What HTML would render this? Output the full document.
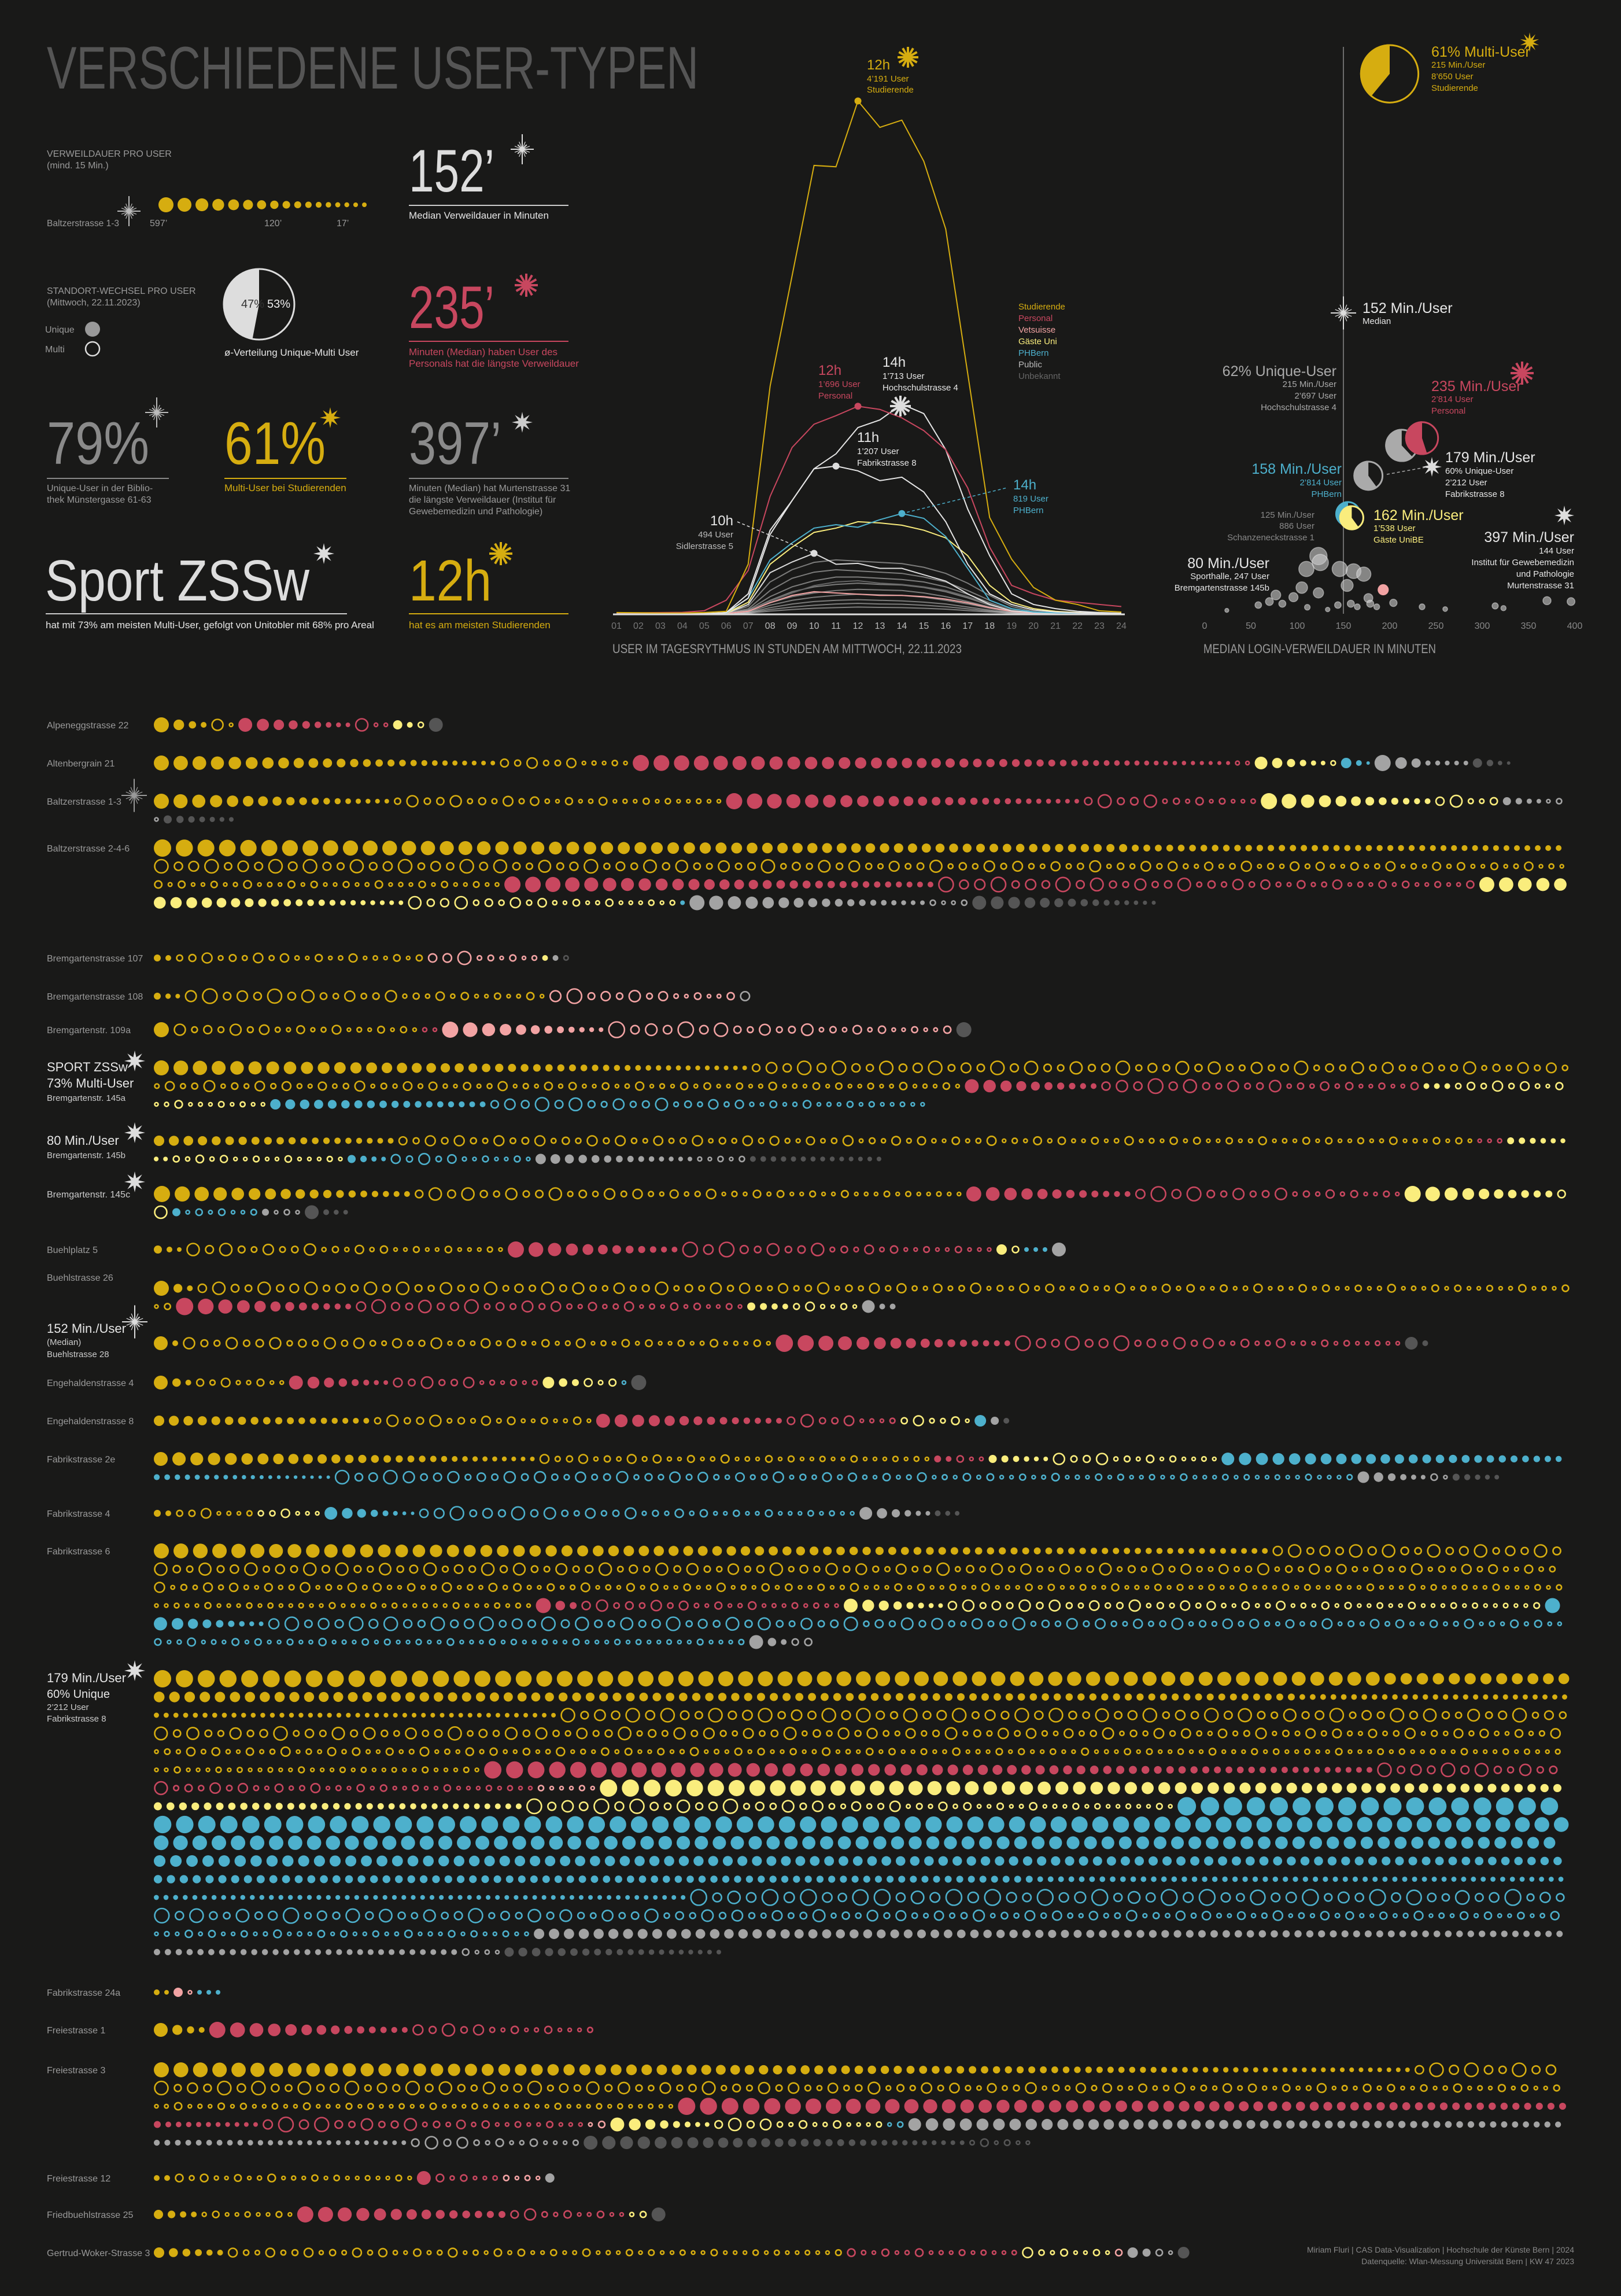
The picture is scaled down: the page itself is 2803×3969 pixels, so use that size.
<!DOCTYPE html>
<html><head><meta charset="utf-8">
<style>
html,body{margin:0;padding:0;background:#191918;}
svg{display:block;font-family:"Liberation Sans Narrow","Liberation Sans",sans-serif;}
.sm{font-size:16px;fill:#9a9a9a;}
.wt{fill:#e6e6e6;}
</style></head>
<body>
<svg id="c" width="2803" height="3969" viewBox="0 0 2803 3969" xmlns="http://www.w3.org/2000/svg">
<rect width="2803" height="3969" fill="#191918"/>
<text x="81" y="153" font-size="104" fill="#555" textLength="1127" lengthAdjust="spacingAndGlyphs">VERSCHIEDENE USER-TYPEN</text>

<g>
<text x="81" y="271" class="sm">VERWEILDAUER PRO USER</text>
<text x="81" y="291" class="sm">(mind. 15 Min.)</text>
<text x="81" y="391" class="sm" textLength="125" lengthAdjust="spacingAndGlyphs">Baltzerstrasse 1-3</text>
<g id="keydots"></g>
<text x="259" y="391" class="sm">597’</text>
<text x="457" y="391" class="sm">120’</text>
<text x="582" y="391" class="sm">17’</text>
</g>
<g>
<text x="81" y="508" class="sm">STANDORT-WECHSEL PRO USER</text>
<text x="81" y="528" class="sm">(Mittwoch, 22.11.2023)</text>
<text x="78" y="575" class="sm">Unique</text>
<circle cx="160" cy="569" r="13" fill="#999"/>
<text x="78" y="609" class="sm">Multi</text>
<circle cx="160" cy="603" r="12" fill="none" stroke="#ddd" stroke-width="2.5"/>
<g id="keypie"></g>
<text x="417" y="532" font-size="20" fill="#333">47%</text>
<text x="462" y="532" font-size="20" fill="#eee">53%</text>
<text x="388" y="615" font-size="17" class="wt">ø-Verteilung Unique-Multi User</text>
</g>

<g>
<text x="707" y="331" font-size="104" fill="#ddd" textLength="148" lengthAdjust="spacingAndGlyphs">152’</text>
<line x1="707" y1="355" x2="983" y2="355" stroke="#ccc" stroke-width="2"/>
<text x="707" y="378" font-size="17" class="wt">Median Verweildauer in Minuten</text>
</g>
<g>
<text x="707" y="567" font-size="104" fill="#c8475f" textLength="148" lengthAdjust="spacingAndGlyphs">235’</text>
<line x1="707" y1="590" x2="983" y2="590" stroke="#c8475f" stroke-width="2"/>
<text x="707" y="614" font-size="17" fill="#c8475f">Minuten (Median) haben User des</text>
<text x="707" y="634" font-size="17" fill="#c8475f">Personals hat die längste Verweildauer</text>
</g>
<g>
<text x="81" y="802" font-size="104" fill="#8a8a8a" textLength="177" lengthAdjust="spacingAndGlyphs">79%</text>
<line x1="81" y1="827" x2="292" y2="827" stroke="#888" stroke-width="2"/>
<text x="81" y="849" class="sm">Unique-User in der Biblio-</text>
<text x="81" y="869" class="sm">thek Münstergasse 61-63</text>
</g>
<g>
<text x="388" y="802" font-size="104" fill="#d6ad10" textLength="175" lengthAdjust="spacingAndGlyphs">61%</text>
<line x1="388" y1="827" x2="599" y2="827" stroke="#d6ad10" stroke-width="2"/>
<text x="388" y="849" font-size="17" fill="#d6ad10">Multi-User bei Studierenden</text>
</g>
<g>
<text x="707" y="802" font-size="104" fill="#8a8a8a" textLength="160" lengthAdjust="spacingAndGlyphs">397’</text>
<line x1="707" y1="827" x2="983" y2="827" stroke="#888" stroke-width="2"/>
<text x="707" y="849" class="sm">Minuten (Median) hat Murtenstrasse 31</text>
<text x="707" y="869" class="sm">die längste Verweildauer (Institut für</text>
<text x="707" y="889" class="sm">Gewebemedizin und Pathologie)</text>
</g>
<g>
<text x="78" y="1038" font-size="100" fill="#ddd" textLength="457" lengthAdjust="spacingAndGlyphs">Sport ZSSw</text>
<line x1="79" y1="1061" x2="600" y2="1061" stroke="#ccc" stroke-width="2"/>
<text x="79" y="1086" font-size="17" class="wt">hat mit 73% am meisten Multi-User, gefolgt von Unitobler mit 68% pro Areal</text>
</g>
<g>
<text x="707" y="1038" font-size="100" fill="#d6ad10" textLength="143" lengthAdjust="spacingAndGlyphs">12h</text>
<line x1="707" y1="1061" x2="983" y2="1061" stroke="#d6ad10" stroke-width="2"/>
<text x="707" y="1086" font-size="17" fill="#d6ad10">hat es am meisten Studierenden</text>
</g>

<g id="linechart">
<text x="1059" y="1129" font-size="22" fill="#9a9a9a" textLength="604" lengthAdjust="spacingAndGlyphs">USER IM TAGESRYTHMUS IN STUNDEN AM MITTWOCH, 22.11.2023</text>
<g id="lcLines"></g><g id="lcTicks"></g>
<text x="1499" y="120" font-size="24" fill="#d6ad10">12h</text>
<text x="1499" y="141" font-size="15" fill="#d6ad10">4’191 User</text>
<text x="1499" y="160" font-size="15" fill="#d6ad10">Studierende</text>
<text x="1415" y="648" font-size="24" fill="#c8475f">12h</text>
<text x="1415" y="669" font-size="15" fill="#c8475f">1’696 User</text>
<text x="1415" y="689" font-size="15" fill="#c8475f">Personal</text>
<text x="1526" y="634" font-size="24" class="wt">14h</text>
<text x="1526" y="655" font-size="15" class="wt">1’713 User</text>
<text x="1526" y="675" font-size="15" class="wt">Hochschulstrasse 4</text>
<text x="1482" y="764" font-size="24" class="wt">11h</text>
<text x="1482" y="785" font-size="15" class="wt">1’207 User</text>
<text x="1482" y="805" font-size="15" class="wt">Fabrikstrasse 8</text>
<text x="1752" y="846" font-size="24" fill="#4db0cc">14h</text>
<text x="1752" y="867" font-size="15" fill="#4db0cc">819 User</text>
<text x="1752" y="887" font-size="15" fill="#4db0cc">PHBern</text>
<text x="1268" y="908" font-size="24" class="wt" text-anchor="end">10h</text>
<text x="1268" y="929" font-size="15" fill="#bbb" text-anchor="end">494 User</text>
<text x="1268" y="949" font-size="15" fill="#bbb" text-anchor="end">Sidlerstrasse 5</text>
<g>
<text x="1761" y="535" font-size="15" fill="#d6ad10">Studierende</text>
<text x="1761" y="555" font-size="15" fill="#c8475f">Personal</text>
<text x="1761" y="575" font-size="15" fill="#f2a3a3">Vetsuisse</text>
<text x="1761" y="595" font-size="15" fill="#faed7d">Gäste Uni</text>
<text x="1761" y="615" font-size="15" fill="#4db0cc">PHBern</text>
<text x="1761" y="635" font-size="15" fill="#bbb">Public</text>
<text x="1761" y="655" font-size="15" fill="#666">Unbekannt</text>
</g>
</g>

<g id="scatter">
<text x="2081" y="1129" font-size="22" fill="#9a9a9a" textLength="402" lengthAdjust="spacingAndGlyphs">MEDIAN LOGIN-VERWEILDAUER IN MINUTEN</text>
<g id="scTicks"></g><g id="scMarks"></g>
<text x="2475" y="98" font-size="25" fill="#d6ad10">61% Multi-User</text>
<text x="2475" y="117" font-size="15" fill="#d6ad10">215 Min./User</text>
<text x="2475" y="137" font-size="15" fill="#d6ad10">8’650 User</text>
<text x="2475" y="157" font-size="15" fill="#d6ad10">Studierende</text>
<text x="2356" y="541" font-size="25" class="wt">152 Min./User</text>
<text x="2356" y="560" font-size="15" class="wt">Median</text>
<text x="2311" y="650" font-size="25" fill="#aaa" text-anchor="end">62% Unique-User</text>
<text x="2311" y="669" font-size="15" fill="#aaa" text-anchor="end">215 Min./User</text>
<text x="2311" y="689" font-size="15" fill="#aaa" text-anchor="end">2’697 User</text>
<text x="2311" y="709" font-size="15" fill="#aaa" text-anchor="end">Hochschulstrasse 4</text>
<text x="2475" y="676" font-size="25" fill="#c8475f">235 Min./User</text>
<text x="2475" y="695" font-size="15" fill="#c8475f">2’814 User</text>
<text x="2475" y="715" font-size="15" fill="#c8475f">Personal</text>
<text x="2499" y="799" font-size="25" class="wt">179 Min./User</text>
<text x="2499" y="819" font-size="15" class="wt">60% Unique-User</text>
<text x="2499" y="839" font-size="15" class="wt">2’212 User</text>
<text x="2499" y="859" font-size="15" class="wt">Fabrikstrasse 8</text>
<text x="2320" y="819" font-size="25" fill="#4db0cc" text-anchor="end">158 Min./User</text>
<text x="2320" y="839" font-size="15" fill="#4db0cc" text-anchor="end">2’814 User</text>
<text x="2320" y="859" font-size="15" fill="#4db0cc" text-anchor="end">PHBern</text>
<text x="2375" y="899" font-size="25" fill="#faed7d">162 Min./User</text>
<text x="2375" y="918" font-size="15" fill="#faed7d">1’538 User</text>
<text x="2375" y="938" font-size="15" fill="#faed7d">Gäste UniBE</text>
<text x="2273" y="895" font-size="15" fill="#888" text-anchor="end">125 Min./User</text>
<text x="2273" y="914" font-size="15" fill="#888" text-anchor="end">886 User</text>
<text x="2273" y="934" font-size="15" fill="#888" text-anchor="end">Schanzeneckstrasse 1</text>
<text x="2195" y="982" font-size="25" class="wt" text-anchor="end">80 Min./User</text>
<text x="2195" y="1001" font-size="15" class="wt" text-anchor="end">Sporthalle, 247 User</text>
<text x="2195" y="1021" font-size="15" class="wt" text-anchor="end">Bremgartenstrasse 145b</text>
<text x="2722" y="937" font-size="25" class="wt" text-anchor="end">397 Min./User</text>
<text x="2722" y="957" font-size="15" class="wt" text-anchor="end">144 User</text>
<text x="2722" y="977" font-size="15" class="wt" text-anchor="end">Institut für Gewebemedizin</text>
<text x="2722" y="997" font-size="15" class="wt" text-anchor="end">und Pathologie</text>
<text x="2722" y="1017" font-size="15" class="wt" text-anchor="end">Murtenstrasse 31</text>
</g>

<g>
<text x="81" y="1259" class="sm">Alpeneggstrasse 22</text>
<text x="81" y="1325" class="sm">Altenbergrain 21</text>
<text x="81" y="1391" class="sm">Baltzerstrasse 1-3</text>
<text x="81" y="1472" class="sm">Baltzerstrasse 2-4-6</text>
<text x="81" y="1662" class="sm">Bremgartenstrasse 107</text>
<text x="81" y="1728" class="sm">Bremgartenstrasse 108</text>
<text x="81" y="1786" class="sm">Bremgartenstr. 109a</text>
<text x="81" y="1852" font-size="22" class="wt">SPORT ZSSw</text>
<text x="81" y="1880" font-size="22" class="wt">73% Multi-User</text>
<text x="81" y="1903" font-size="15" fill="#ccc">Bremgartenstr. 145a</text>
<text x="81" y="1979" font-size="22" class="wt">80 Min./User</text>
<text x="81" y="2002" font-size="15" fill="#ccc">Bremgartenstr. 145b</text>
<text x="81" y="2070" font-size="16" fill="#ccc">Bremgartenstr. 145c</text>
<text x="81" y="2166" class="sm">Buehlplatz 5</text>
<text x="81" y="2214" class="sm">Buehlstrasse 26</text>
<text x="81" y="2304" font-size="22" class="wt">152 Min./User</text>
<text x="81" y="2325" font-size="15" fill="#ccc">(Median)</text>
<text x="81" y="2346" font-size="15" fill="#ccc">Buehlstrasse 28</text>
<text x="81" y="2396" class="sm">Engehaldenstrasse 4</text>
<text x="81" y="2462" class="sm">Engehaldenstrasse 8</text>
<text x="81" y="2528" class="sm">Fabrikstrasse 2e</text>
<text x="81" y="2622" class="sm">Fabrikstrasse 4</text>
<text x="81" y="2687" class="sm">Fabrikstrasse 6</text>
<text x="81" y="2908" font-size="22" class="wt">179 Min./User</text>
<text x="81" y="2935" font-size="20" class="wt">60% Unique</text>
<text x="81" y="2956" font-size="15" fill="#ccc">2’212 User</text>
<text x="81" y="2976" font-size="15" fill="#ccc">Fabrikstrasse 8</text>
<text x="81" y="3450" class="sm">Fabrikstrasse 24a</text>
<text x="81" y="3515" class="sm">Freiestrasse 1</text>
<text x="81" y="3584" class="sm">Freiestrasse 3</text>
<text x="81" y="3771" class="sm">Freiestrasse 12</text>
<text x="81" y="3834" class="sm">Friedbuehlstrasse 25</text>
<text x="81" y="3900" class="sm">Gertrud-Woker-Strasse 3</text>
</g>
<g id="rows"></g>
<g id="stars"></g>

<text x="2722" y="3894" font-size="14" fill="#888" text-anchor="end">Miriam Fluri | CAS Data-Visualization | Hochschule der Künste Bern | 2024</text>
<text x="2722" y="3914" font-size="14" fill="#888" text-anchor="end">Datenquelle: Wlan-Messung Universität Bern | KW 47 2023</text>
</svg>

<script>
// ---------- data: hourly chart ----------
const hours = [1,2,3,4,5,6,7,8,9,10,11,12,13,14,15,16,17,18,19,20,21,22,23,24];
const studierende = [10,8,6,6,10,20,405,1861,2762,3664,3653,4191,3975,4034,3698,3144,1965,787,447,215,111,76,24,14];
const personal = [8,8,10,12,25,111,354,960,1359,1549,1619,1696,1670,1601,1497,1341,1029,544,232,163,111,94,76,59];
const hochschul4 = [0,0,0,0,2,10,163,683,925,1185,1307,1522,1584,1713,1636,1341,856,475,163,76,42,20,10,5];
const fabrik8 = [0,0,0,0,2,8,128,648,925,1185,1207,1168,1088,1116,995,752,405,163,76,31,15,8,4,2];
const phbern = [0,0,0,0,0,5,128,440,579,700,728,707,769,819,780,631,371,111,42,15,8,4,2,0];
const gaeste = [0,0,0,0,0,5,94,405,544,665,700,752,742,724,683,620,475,232,94,42,20,10,5,2];
const sidler = [0,0,0,0,0,3,76,336,423,494,405,412,371,371,319,267,163,76,24,10,5,2,0,0];
const bgA = [0,0,0,0,0,5,60,260,360,420,440,430,420,410,380,330,250,150,60,20,5,0,0,0];
const bgB = [0,0,0,0,0,4,40,190,290,340,360,350,340,330,300,260,190,110,40,10,0,0,0,0];
const bgC = [0,0,0,0,0,3,30,140,220,270,300,300,290,280,260,220,160,90,30,10,0,0,0,0];
const bgD = [0,0,0,0,0,2,25,110,180,220,240,250,240,235,215,180,130,70,25,8,0,0,0,0];
const bgE = [0,0,0,0,0,2,20,90,140,170,190,200,195,190,170,140,100,55,20,5,0,0,0,0];
const bgF = [0,0,0,0,0,1,15,70,110,135,150,160,155,150,135,110,80,45,15,4,0,0,0,0];
const bgG = [0,0,0,0,0,1,10,50,80,100,110,115,110,105,95,80,55,30,10,3,0,0,0,0];
const bgH = [0,0,0,0,0,0,8,35,55,70,80,85,80,78,70,58,40,22,8,2,0,0,0,0];
const bgI = [0,0,0,0,0,0,5,22,35,45,50,55,52,50,45,38,26,15,5,1,0,0,0,0];
const vetsuisse = [0,0,0,0,0,2,20,90,150,180,170,160,150,150,140,120,90,50,20,5,0,0,0,0];
const unbekannt = [0,0,0,0,0,2,20,100,170,230,260,270,250,240,220,190,140,80,30,10,0,0,0,0];

// ---------- data: scatter ----------
const bubMinutes = [123,125,110,146,161,172,154,105,123,77,96,177,193,204,70,84,58,111,144,165,186,235,260,314,323,370,396,24,133,158,179];
const bubUsers = [897,795,693,693,659,612,435,401,319,285,251,238,367,163,183,150,129,95,129,102,102,102,68,116,82,197,183,48,61,150,150];
const pieNames = ['studierende','hochschul4','personal','fabrik8','phbern','gaeste'];
const pieMinutes = [200,213,235,177,155,159];
const pieUsers = [8650,2697,2814,2212,1600,1538];
const pieUnique = [0.39,0.62,0.55,0.60,0.5,0.6];
const pieColors = ['#d6ad10','#aaa','#c8475f','#aaa','#4db0cc','#faed7d'];
const scTicks = [0,50,100,150,200,250,300,350,400];

// ---------- data: location dot rows (colour, F=unique/O=multi, count, start size, end size) ----------
const locNames = ['alpenegg','altenbergrain','baltzer-1-3','baltzer-2-4-6','bremgarten-107','bremgarten-108','bremgarten-109a','sport-zssw','bremgarten-145b','bremgarten-145c','buehlplatz-5','buehlstrasse-26','buehlstrasse-28','engehalden-4','engehalden-8','fabrik-2e','fabrik-4','fabrik-6','fabrik-8','fabrik-24a','freie-1','freie-3','freie-12','friedbuehl-25','gertrud-woker-3'];
const locY = [1253,1319,1385,1466,1656,1722,1780,1846,1972,2064,2160,2227,2322,2390,2456,2522,2616,2681,2902,3444,3509,3578,3765,3828,3894];
const locSegs = [
 "Y F 4 26 10;Y O 2 22 8;P F 9 24 8;P O 3 24 8;G F 2 16 10;G O 1 12 12;D F 1 24 24",
 "Y F 26 26 8;Y O 11 24 10;P F 45 28 7;P O 2 14 12;G F 6 22 8;G O 1 16 16;B F 3 18 6;W F 3 28 16;W F 5 9 8;D F 4 16 6",
 "Y F 18 26 8;Y O 28 22 10;P F 26 28 8;P O 14 26 10;G F 12 28 10;G O 5 28 12;W F 4 14 8;W O 3 12 12;D F 7 14 8",
 "Y F 60 30 14;Y F 40 12 10;Y O 135 26 12;P F 30 28 10;P O 40 28 12;G F 26 26 8;G O 22 24 10;B F 1 8 8;W F 18 26 8;W O 4 12 12;D F 15 24 7",
 "Y F 2 12 10;Y O 21 20 12;V O 9 26 10;G F 1 10 10;W F 1 10 10;D O 1 16 16",
 "Y F 3 12 8;Y O 27 28 12;V O 14 28 12;W O 1 24 24",
 "Y F 1 26 26;Y O 20 22 12;P O 2 10 10;V F 12 28 8;V O 25 30 12;D F 1 26 26",
 "Y F 45 26 8;Y O 125 26 12;P F 10 24 10;P O 24 28 12;G F 3 10 10;G O 20 20 10;B F 18 18 10;B O 35 26 10",
 "Y F 20 18 10;Y O 90 20 12;P O 3 10 10;G F 8 12 8;G O 16 16 10;B F 4 14 8;B O 12 22 10;W F 14 18 8;W O 5 12 12;D F 14 10 8",
 "Y F 18 28 10;Y O 45 24 10;P F 12 26 10;P O 20 28 12;G F 10 28 12;G O 2 24 24;B F 1 14 14;B O 7 14 12;W F 1 12 12;W O 3 12 12;D F 1 24 24;D F 3 10 8",
 "Y F 3 14 8;Y O 26 24 10;P F 12 28 10;P O 24 28 10;G F 1 18 18;G O 1 14 14;B F 3 8 8;W F 1 24 24",
 "Y F 3 26 10;Y O 110 24 12;P F 12 30 10;P O 30 26 12;G F 4 14 10;G O 6 18 12;W F 1 22 22;W F 2 10 10",
 "Y F 2 24 10;Y O 48 22 12;P F 16 30 10;P O 30 28 10;D F 2 22 10",
 "Y F 3 24 10;Y O 8 22 10;P F 8 24 8;P O 12 26 10;G F 3 20 12;G O 3 24 14;B O 1 12 12;D F 1 26 26",
 "Y F 18 18 10;Y O 18 22 12;P F 14 24 10;P O 9 26 10;G O 6 22 12;B F 1 20 20;W F 1 14 14;D F 1 10 10",
 "Y F 30 24 8;Y O 35 18 10;P F 2 12 10;P O 3 14 12;G F 6 14 8;G O 14 22 10;B F 45 22 6;B O 4 26 22;B O 80 22 10;W F 6 20 8;W O 2 14 12;D F 5 12 8",
 "Y F 2 12 10;Y O 7 20 10;G O 6 18 10;B F 8 22 6;B O 35 26 10;W F 6 22 8;D F 3 10 8",
 "Y F 80 26 10;Y O 285 24 10;P F 3 26 12;P O 22 22 10;G F 8 24 8;G O 50 22 10;B F 10 26 8;B O 150 26 10;W F 3 24 10;W O 2 18 12",
 "Y F 62 30 24;Y F 100 20 12;Y F 70 10 8;Y O 330 26 10;P F 60 30 10;P O 45 26 10;V O 6 12 10;G F 90 30 10;G O 50 28 10;B F 60 32 28;B F 85 28 22;B F 90 22 16;B F 100 16 12;B F 110 10 8;B O 10 30 28;B O 180 30 12;W F 110 18 10;W O 4 14 12;D F 20 16 8",
 "Y F 2 10 8;V F 1 16 16;V O 1 10 10;B F 3 8 8",
 "Y F 4 24 10;P F 14 28 10;P O 15 24 10",
 "Y F 95 26 8;Y O 165 26 10;P F 58 30 12;P F 10 10 8;P O 25 28 10;V O 2 14 12;G F 8 24 8;G O 14 24 10;B O 2 12 12;W F 55 22 10;W F 20 10 8;W O 14 24 10;D F 30 24 8;D O 6 16 10",
 "Y F 2 10 10;Y O 22 16 10;P F 1 24 24;P O 6 16 10;V O 4 12 10;W F 1 16 16",
 "Y F 4 16 10;Y O 9 14 10;P F 14 28 12;P O 10 22 10;G O 2 14 12;D F 1 24 24",
 "Y F 6 18 10;Y O 55 18 10;P O 16 16 10;G O 8 20 10;V O 1 14 14;W F 2 18 14;W O 2 14 12;D F 1 20 20"
];
const keyDotCount = 17;

// ---------- rendering ----------
const NS='http://www.w3.org/2000/svg';
const COL={Y:'#d6ad10',P:'#c8475f',V:'#f2a3a3',G:'#faed7d',B:'#4db0cc',W:'#a3a3a3',D:'#555'};
const OPAT=[1,0.62,0.55,0.95,0.6,0.7,1.15,0.55,0.75,0.6,1.05,0.65];
const GAP=8;
function mk(tag,parent){const e=document.createElementNS(NS,tag);parent.appendChild(e);return e;}

const kd=document.getElementById('keydots');
{let x=274;for(let i=0;i<keyDotCount;i++){const t=i/(keyDotCount-1);const d=8+18*Math.pow(1-t,1.8);const c=mk('circle',kd);


c.setAttribute('cx',x+d/2);c.setAttribute('cy',354);c.setAttribute('r',d/2);c.setAttribute('fill',COL.Y);x+=d+7;}}

function wedge(g,cx,cy,r,frac,fill){
  if(frac>=0.999){const c=mk('circle',g);c.setAttribute('cx',cx);c.setAttribute('cy',cy);c.setAttribute('r',r);c.setAttribute('fill',fill);return c;}
  const a=-Math.PI/2-frac*2*Math.PI;const x=cx+r*Math.cos(a),y=cy+r*Math.sin(a);
  const p=mk('path',g);p.setAttribute('d',`M${cx},${cy} L${cx},${cy-r} A${r},${r} 0 ${frac>0.5?1:0} 0 ${x},${y} Z`);p.setAttribute('fill',fill);return p;}
const kp=document.getElementById('keypie');
{const w=wedge(kp,448,526,61,0.47,'#ddd');


const o=mk('circle',kp);


o.setAttribute('cx',448);o.setAttribute('cy',526);o.setAttribute('r',61);o.setAttribute('fill','none');o.setAttribute('stroke','#ddd');o.setAttribute('stroke-width',3);}

const hx=h=>1066+(h-1)*(1939-1066)/23;
const vy=v=>1061-v*(1061-174.5)/4191;
const lcL=document.getElementById('lcLines'), lcT=document.getElementById('lcTicks');
function series(arr,color,w,name,op){const p=mk('polyline',lcL);


p.setAttribute('points',arr.map((v,i)=>hx(hours[i])+','+vy(v)).join(' '));p.setAttribute('fill','none');p.setAttribute('stroke',color);p.setAttribute('stroke-width',w);if(op)p.setAttribute('opacity',op);}
[bgA,bgB,bgC,bgD,bgE,bgF,bgG,bgH,bgI].forEach((a,i)=>series(a,'#cfcfcf',2,'background-line-'+i,0.55));
series(unbekannt,'#666',2,'line-unbekannt');
series(vetsuisse,'#f2a3a3',2,'line-vetsuisse');
series(sidler,'#ddd',2,'line-sidlerstrasse-5');
series(gaeste,'#faed7d',2,'line-gaeste-uni');
series(phbern,'#4db0cc',2,'line-phbern');
series(fabrik8,'#e6e6e6',2,'line-fabrikstrasse-8');
series(hochschul4,'#e6e6e6',2,'line-hochschulstrasse-4');
series(personal,'#c8475f',2,'line-personal');
series(studierende,'#d6ad10',2,'line-studierende');
{const b=mk('line',lcT);


b.setAttribute('x1',1060);b.setAttribute('x2',1945);b.setAttribute('y1',1062);b.setAttribute('y2',1062);b.setAttribute('stroke','#ddd');b.setAttribute('stroke-width',3);}
hours.forEach(h=>{const t=mk('text',lcT);


t.setAttribute('x',hx(h));t.setAttribute('y',1087);t.setAttribute('text-anchor','middle');t.setAttribute('font-size',16);t.setAttribute('fill',h>=8&&h<=18?'#bbb':'#777');t.textContent=String(h).padStart(2,'0');});
function pt(h,arr,color,name){const c=mk('circle',lcL);


c.setAttribute('cx',hx(h));c.setAttribute('cy',vy(arr[h-1]));c.setAttribute('r',6);c.setAttribute('fill',color);return [hx(h),vy(arr[h-1])];}
pt(12,studierende,'#d6ad10','peak-point-studierende');
pt(12,personal,'#c8475f','peak-point-personal');
pt(11,fabrik8,'#ddd','peak-point-fabrik8');
const pb=pt(14,phbern,'#4db0cc','peak-point-phbern');
const ps=pt(10,sidler,'#ddd','peak-point-sidler');
function dash(x1,y1,x2,y2,c,name,parent){const l=mk('line',parent);


l.setAttribute('x1',x1);l.setAttribute('y1',y1);l.setAttribute('x2',x2);l.setAttribute('y2',y2);l.setAttribute('stroke',c);l.setAttribute('stroke-width',1.5);l.setAttribute('stroke-dasharray','5,4');}
dash(pb[0],pb[1],1742,843,'#4db0cc','phbern-leader',lcL);
dash(1275,902,ps[0],ps[1],'#ddd','sidler-leader',lcL);

const sx=m=>2083+m*1.6;
const sy=u=>1061-u*0.1079;
const scT=document.getElementById('scTicks'), scM=document.getElementById('scMarks');
scTicks.forEach(m=>{const t=mk('text',scT);


t.setAttribute('x',sx(m));t.setAttribute('y',1087);t.setAttribute('text-anchor','middle');t.setAttribute('font-size',16);t.setAttribute('fill','#888');t.textContent=m;});
{const l=mk('line',scM);


l.setAttribute('x1',sx(150));l.setAttribute('x2',sx(150));l.setAttribute('y1',81);l.setAttribute('y2',1061);l.setAttribute('stroke','#888');l.setAttribute('stroke-width',1.5);}
bubMinutes.forEach((m,i)=>{const c=mk('circle',scM);


const r=Math.max(2.5,0.5*Math.sqrt(bubUsers[i]));
c.setAttribute('cx',sx(m));c.setAttribute('cy',sy(bubUsers[i])-r*0.2);c.setAttribute('r',r);
c.setAttribute('fill',i===12?'#f2a3a3':'rgba(205,205,205,0.6)');c.setAttribute('stroke',i===12?'none':'rgba(235,235,235,0.5)');c.setAttribute('stroke-width',1.5);});
pieNames.forEach((n,i)=>{const g=mk('g',scM);


const cx=sx(pieMinutes[i]),cy=sy(pieUsers[i]),r=0.55*Math.sqrt(pieUsers[i]);
const bg=mk('circle',g);bg.setAttribute('cx',cx);bg.setAttribute('cy',cy);bg.setAttribute('r',r);bg.setAttribute('fill','#191918');
wedge(g,cx,cy,r,pieUnique[i],pieColors[i]);
const o=mk('circle',g);o.setAttribute('cx',cx);o.setAttribute('cy',cy);o.setAttribute('r',r-1.5);o.setAttribute('fill','none');o.setAttribute('stroke',pieColors[i]);o.setAttribute('stroke-width',3);});
dash(2398,820,2464,808,'#aaa','fabrik8-leader',scM);

const rowsG=document.getElementById('rows');
locNames.forEach((n,li)=>{const g=mk('g',rowsG);


let x=266,y=locY[li];
locSegs[li].split(';').forEach(s=>{const [c,f,cnt,d0,d1]=s.trim().split(/\s+/);const N=+cnt;
for(let i=0;i<N;i++){const t=N>1?i/(N-1):0;let d=+d1+(+d0-+d1)*Math.pow(1-t,1.6);
if(f==='O'){d=Math.max(9,Math.min(+d0,d*OPAT[(i+li)%OPAT.length]*1.1));}
if(x+d>2714){x=266;y+=31.5;}
const e=mk('circle',g);


e.setAttribute('cx',x+d/2);e.setAttribute('cy',y);
if(f==='F'){e.setAttribute('r',d/2);e.setAttribute('fill',COL[c]);}
else{e.setAttribute('r',d/2-1.5);e.setAttribute('fill','none');e.setAttribute('stroke',COL[c]);e.setAttribute('stroke-width',2.6);}
x+=d+GAP;}});});

const stG=document.getElementById('stars');
function star(x,y,r,color,type,name){const g=mk('g',stG);


if(type==='spark'){[0,45,90,135].forEach((a,k)=>{const L=k%2?r*0.55:r;const rad=a*Math.PI/180;const l=mk('line',g);l.setAttribute('x1',x-L*Math.cos(rad));l.setAttribute('y1',y-L*Math.sin(rad)*(k===2?1.3:1));l.setAttribute('x2',x+L*Math.cos(rad));l.setAttribute('y2',y+L*Math.sin(rad)*(k===2?1.3:1));l.setAttribute('stroke',color);l.setAttribute('stroke-width',2);});
 [22.5,67.5,112.5,157.5].forEach(a=>{const rad=a*Math.PI/180;const L=r*0.7;const l=mk('line',g);l.setAttribute('x1',x-L*Math.cos(rad));l.setAttribute('y1',y-L*Math.sin(rad));l.setAttribute('x2',x+L*Math.cos(rad));l.setAttribute('y2',y+L*Math.sin(rad));l.setAttribute('stroke',color);l.setAttribute('stroke-width',1.2);});}
else if(type==='ast'){[0,30,60,90,120,150].forEach(a=>{const rad=a*Math.PI/180;const l=mk('line',g);l.setAttribute('x1',x-r*Math.cos(rad));l.setAttribute('y1',y-r*Math.sin(rad));l.setAttribute('x2',x+r*Math.cos(rad));l.setAttribute('y2',y+r*Math.sin(rad));l.setAttribute('stroke',color);l.setAttribute('stroke-width',4);});}
else{let pts=[];const n=type==='star8'?8:10;for(let k=0;k<2*n;k++){const rr=k%2?r*0.38:r;const a=k*Math.PI/n-Math.PI/2;pts.push((x+rr*Math.cos(a))+','+(y+rr*Math.sin(a)));}const p=mk('polygon',g);p.setAttribute('points',pts.join(' '));p.setAttribute('fill',color);}}
star(223,365,20,'#bbb','spark','star-key');
star(903,258,20,'#ddd','spark','star-152');
star(910,493,20,'#c8475f','ast','star-235');
star(271,713,20,'#bbb','spark','star-79');
star(571,722,18,'#d6ad10','star8','star-61');
star(903,730,18,'#ccc','star8','star-397');
star(560,957,18,'#ddd','star8','star-sport');
star(866,957,20,'#d6ad10','ast','star-12h');
star(1570,99,18,'#d6ad10','ast','star-peak-studierende');
star(1557,702,18,'#ddd','ast','star-hochschul');
star(2645,73,17,'#d6ad10','star10','star-multi-user');
star(2323,541,22,'#ddd','spark','star-median');
star(2632,645,20,'#c8475f','ast','star-personal');
star(2476,807,17,'#ddd','star8','star-fabrik8');
star(2705,891,17,'#ddd','star8','star-murten');
star(232,1375,22,'#999','spark','star-baltzer');
star(233,1834,18,'#ddd','star8','star-sport-row');
star(233,1958,18,'#ddd','star8','star-80min-row');
star(233,2043,18,'#ddd','star8','star-145c-row');
star(233,2285,22,'#ddd','spark','star-152-row');
star(233,2888,18,'#ddd','star8','star-179-row');
</script>
</body></html>
